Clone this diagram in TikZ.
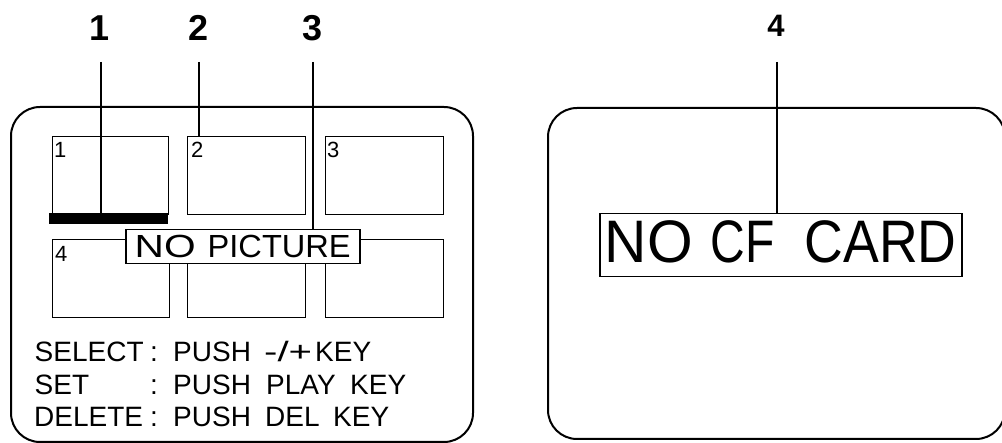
\documentclass[tikz,border=0pt]{standalone}
\usepackage{fontspec}
\setmainfont{Liberation Sans}
\usepackage{graphicx}
\begin{document}
\begin{tikzpicture}[x=1pt,y=-1pt,
  screen/.style={line width=2pt, rounded corners=29pt},
  thumb/.style={draw, line width=1.2pt, anchor=north west, inner sep=0pt, minimum height=78pt},
  leader/.style={line width=2pt},
  callout/.style={font=\bfseries\fontsize{36}{36}\selectfont, inner sep=0pt, anchor=base},
  menu/.style={font=\fontsize{28}{28}\selectfont, inner sep=0pt, anchor=base west},
  small/.style={font=\fontsize{22}{22}\selectfont, inner sep=0pt, anchor=base west},
  msgbox/.style={draw, line width=1.5pt, fill=white, anchor=north west, inner sep=0pt},
  msgtext/.style={inner sep=0pt, anchor=base west}]
\useasboundingbox (0,0) rectangle (1002,443);
\clip (0,0) rectangle (1002,443);
% screens
\draw[screen] (11,107) rectangle (473,442);
\draw[screen] (548,108) rectangle (1005,439);
% thumbnails
\node[thumb, minimum width=116pt] (b1) at (52,136) {};
\node[thumb, minimum width=118pt] (b2) at (187,136) {};
\node[thumb, minimum width=118pt] (b3) at (325,136) {};
\node[thumb, minimum width=117pt] (b4) at (52,239) {};
\node[thumb, minimum width=118pt] (b5) at (187,239) {};
\node[thumb, minimum width=118pt] (b6) at (325,239) {};
\node[small] (d1) at (54,158) {1};
\node[small] (d2) at (191,158) {2};
\node[small] (d3) at (327,158) {3};
\node[small] (d4) at (55,262) {4};
% cursor bar
\node[fill=black, inner sep=0pt, minimum width=119pt, minimum height=11pt, anchor=north west] (bar) at (49,213) {};
% NO PICTURE
\node[msgbox, minimum width=234pt, minimum height=34pt] (npbox) at (125,229) {};
\node[msgtext, font=\fontsize{32}{32}\selectfont] (npno) at (134.5,258) {\resizebox{61pt}{\height}{NO}};
\node[msgtext, font=\fontsize{32}{32}\selectfont] (nppic) at (207.5,258) {\resizebox{143pt}{\height}{PICTURE}};
% NO CF CARD
\node[msgbox, minimum width=362pt, minimum height=63pt] (cfbox) at (599,213) {};
\node[msgtext, font=\fontsize{60}{60}\selectfont] (cfno) at (604.5,263) {\resizebox{88pt}{\height}{NO}};
\node[msgtext, font=\fontsize{60}{60}\selectfont] (cfcf) at (710.5,263) {\resizebox{64pt}{\height}{CF}};
\node[msgtext, font=\fontsize{60}{60}\selectfont] (cfcard) at (804.5,263) {\resizebox{152pt}{\height}{CARD}};
% menu text
\node[menu] (m1a) at (34.5,362) {SELECT};
\node[menu] (m1b) at (150,362) {:};
\node[menu] (m1c) at (173,362) {PUSH};
\node[menu] (m1d) at (264,362) {\resizebox{48pt}{\height}{-/+}};
\node[menu] (m1e) at (315,362) {KEY};
\node[menu] (m2a) at (34.5,395) {SET};
\node[menu] (m2b) at (150,395) {:};
\node[menu] (m2c) at (173,395) {PUSH};
\node[menu] (m2d) at (266,395) {PLAY};
\node[menu] (m2e) at (350,395) {KEY};
\node[menu] (m3a) at (34,427) {DELETE};
\node[menu] (m3b) at (150,427) {:};
\node[menu] (m3c) at (173,427) {PUSH};
\node[menu] (m3d) at (265,427) {DEL};
\node[menu] (m3e) at (333,427) {KEY};
% callouts
\node[callout] (c1) at (100,41) {1};
\node[callout] (c2) at (199,41) {2};
\node[callout] (c3) at (313,41) {3};
\node[callout, font=\bfseries\fontsize{31}{31}\selectfont] (c4) at (776,37) {4};
\coordinate (t1) at (101,62);
\coordinate (t2) at (199,62);
\coordinate (t3) at (313,62);
\coordinate (t4) at (777,62);
\draw[leader] (t1) -- (t1 |- bar.north);
\draw[leader] (t2) -- (t2 |- b2.north);
\draw[leader] (t3) -- (t3 |- npbox.north);
\draw[leader] (t4) -- (t4 |- cfbox.north);
\end{tikzpicture}
\end{document}
